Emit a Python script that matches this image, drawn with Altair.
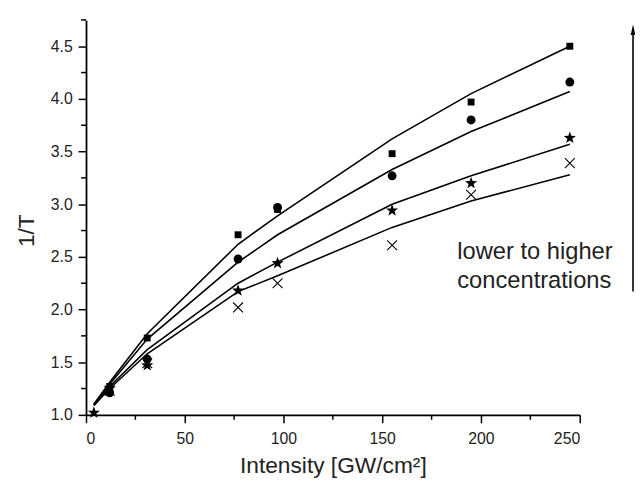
import altair as alt
import pandas as pd

# ---- data ----
intensity = [4, 12, 31, 77, 97, 155, 195, 245]
square_pts = [None, 1.27, 1.73, 2.71, 2.95, 3.48, 3.97, 4.50]
circle_pts = [None, 1.21, 1.53, 2.48, 2.97, 3.27, 3.80, 4.16]
star_pts = [1.02, 1.25, 1.47, 2.18, 2.44, 2.94, 3.20, 3.63]
cross_pts = [None, 1.23, 1.49, 2.02, 2.25, 2.61, 3.09, 3.39]

fit_x = [4, 12, 31, 77, 97, 155, 195, 245]
fit_1 = [1.10, 1.31, 1.77, 2.62, 2.89, 3.62, 4.05, 4.50]
fit_2 = [1.10, 1.29, 1.72, 2.45, 2.71, 3.33, 3.69, 4.07]
fit_3 = [1.09, 1.27, 1.62, 2.25, 2.45, 3.00, 3.27, 3.57]
fit_4 = [1.09, 1.25, 1.58, 2.17, 2.32, 2.78, 3.03, 3.28]

x_ticks = [0, 50, 100, 150, 200, 250]
x_minor = [25, 75, 125, 175, 225]
y_ticks = [1.0, 1.5, 2.0, 2.5, 3.0, 3.5, 4.0, 4.5]
y_minor = [1.25, 1.75, 2.25, 2.75, 3.25, 3.75, 4.25, 4.75]
annot_lines = ["lower to higher", "concentrations"]

FONT = "Liberation Sans"
W, H = 500, 400

STAR = ("M0,-1L0.235,-0.324L0.951,-0.309L0.380,0.124L0.588,0.809L0,0.4"
        "L-0.588,0.809L-0.380,0.124L-0.951,-0.309L-0.235,-0.324Z")
XMARK = "M-1,-1L1,1M1,-1L-1,1"

x_scale = alt.Scale(domain=[0, 250], nice=False, zero=False)
y_scale = alt.Scale(domain=[1.0, 4.75], nice=False, zero=False)

x_axis = alt.Axis(values=x_ticks, tickSize=8, tickWidth=1.5, tickColor="black",
                  domainColor="black", domainWidth=1.8, labelFontSize=16,
                  labelColor="#222", labelFont=FONT, labelPadding=8, grid=False,
                  title="Intensity [GW/cm²]", titleFont=FONT, titleFontSize=23,
                  titleFontWeight="normal", titleColor="#222", titlePadding=8)
y_axis = alt.Axis(values=y_ticks, format=".1f", tickSize=8, tickWidth=1.5,
                  tickColor="black", domainColor="black", domainWidth=1.8,
                  labelFontSize=16, labelColor="#222", labelFont=FONT,
                  labelPadding=6, grid=False, title="1/T", titleFont=FONT,
                  titleFontSize=23, titleFontWeight="normal", titleColor="#222",
                  titlePadding=12, titleY=213)

# lines
fit_rows = []
for name, ys in [("f1", fit_1), ("f2", fit_2), ("f3", fit_3), ("f4", fit_4)]:
    for xv, yv in zip(fit_x, ys):
        fit_rows.append({"x": xv, "y": yv, "s": name})
fit_df = pd.DataFrame(fit_rows)

lines = alt.Chart(fit_df).mark_line(color="black", strokeWidth=1.6).encode(
    x=alt.X("x:Q", scale=x_scale, axis=x_axis),
    y=alt.Y("y:Q", scale=y_scale, axis=y_axis),
    detail="s:N",
)

def pts(vals, shape, size, filled):
    df = pd.DataFrame({"x": intensity, "y": vals}).dropna()
    if filled:
        m = alt.Chart(df).mark_point(shape=shape, size=size, filled=True,
                                     color="black", opacity=1)
    else:
        m = alt.Chart(df).mark_point(shape=shape, size=size, filled=False,
                                     color="black", strokeWidth=1.1, opacity=1)
    return m.encode(x=alt.X("x:Q", scale=x_scale),
                    y=alt.Y("y:Q", scale=y_scale))

squares = pts(square_pts, "square", 49, True)
circles = pts(circle_pts, "circle", 81, True)
stars = pts(star_pts, STAR, 169, True)
crosses = pts(cross_pts, XMARK, 100, False)

# minor ticks
minor_x = alt.Chart(pd.DataFrame({"x": x_minor})).mark_rule(
    color="black", strokeWidth=1.5).encode(
    x=alt.X("x:Q", scale=x_scale), y=alt.value(H), y2=alt.value(H + 5))
minor_y = alt.Chart(pd.DataFrame({"y": y_minor})).mark_rule(
    color="black", strokeWidth=1.5).encode(
    y=alt.Y("y:Q", scale=y_scale), x=alt.value(0), x2=alt.value(-5))

one = pd.DataFrame({"k": [0]})
annot = alt.Chart(one).mark_text(align="left", baseline="middle", fontSize=24,
                                 lineHeight=30, font=FONT, color="#222").encode(
    x=alt.value(376), y=alt.value(235), text=alt.value(annot_lines))

arrow_line = alt.Chart(one).mark_rule(color="black", strokeWidth=1.6).encode(
    x=alt.value(554), y=alt.value(10), y2=alt.value(275))
arrow_head = alt.Chart(one).mark_point(shape="M0,-1L0.45,1L-0.45,1Z", size=110,
                                       filled=True, color="black",
                                       opacity=1).encode(
    x=alt.value(554), y=alt.value(10))

chart = alt.layer(lines, squares, circles, stars, crosses, minor_x, minor_y,
                  annot, arrow_line, arrow_head).properties(
    width=W, height=H,
    autosize=alt.AutoSizeParams(type="none"),
    padding={"left": 79, "top": 9, "right": 56, "bottom": 70},
).configure_view(stroke=None)

chart.save("out.html", embed_options={"renderer": "svg", "actions": False})
